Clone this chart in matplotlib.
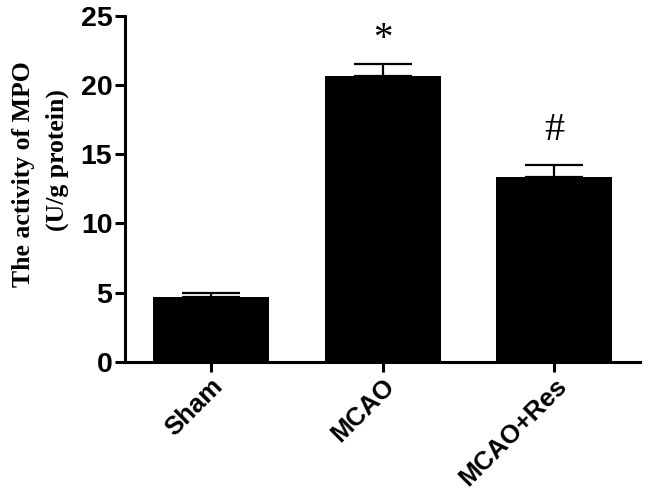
import matplotlib
matplotlib.use("Agg")
import matplotlib.pyplot as plt

categories = ["Sham", "MCAO", "MCAO+Res"]
means = [4.65, 20.65, 13.35]
errors = [0.35, 0.9, 0.87]
marks = ["", "*", "#"]
mark_y = [None, 23.3, 16.7]
yticks = [0, 5, 10, 15, 20, 25]
ylabel_lines = ["The activity of MPO", "(U/g protein)"]

fig = plt.figure(figsize=(6.5, 4.93), dpi=100)
ax = fig.add_axes([0.192, 0.266, 0.793, 0.702])

x = list(range(len(categories)))
ax.bar(x, means, width=0.675, color="black", edgecolor="none", zorder=2)
ax.errorbar(x, means, yerr=[[0]*len(errors), errors], fmt="none", ecolor="black",
            elinewidth=1.6, capsize=21, capthick=1.6, zorder=1)

for xi, m, my in zip(x, marks, mark_y):
    if m:
        size = 28 if m == "*" else 29
        ax.text(xi, my, m, ha="center", va="center", fontsize=size,
                family="Liberation Serif")

ax.set_xlim(-0.5, 2.5)
ax.set_ylim(0, 25)
ax.set_yticks(yticks)
ax.set_xticks(x)
ax.set_xticklabels(categories, rotation=45, ha="right", rotation_mode="anchor",
                   fontsize=18.5, fontweight="bold", family="Liberation Sans")
for lab in ax.get_yticklabels():
    lab.set_fontsize(20.5)
    lab.set_fontweight("bold")
    lab.set_family("Liberation Sans")

for s in ["top", "right"]:
    ax.spines[s].set_visible(False)
for s in ["left", "bottom"]:
    ax.spines[s].set_linewidth(2.2)
ax.tick_params(axis="both", width=2.2, length=7, pad=2)

# Y-axis title in two lines (placed to match the reference)
fig.text(0.036, 0.647, ylabel_lines[0], rotation=90, ha="center", va="center",
         fontsize=18.5, fontweight="bold", family="Liberation Serif")
fig.text(0.088, 0.675, ylabel_lines[1], rotation=90, ha="center", va="center",
         fontsize=18.5, fontweight="bold", family="Liberation Serif")

fig.savefig("out.png", dpi=100)
